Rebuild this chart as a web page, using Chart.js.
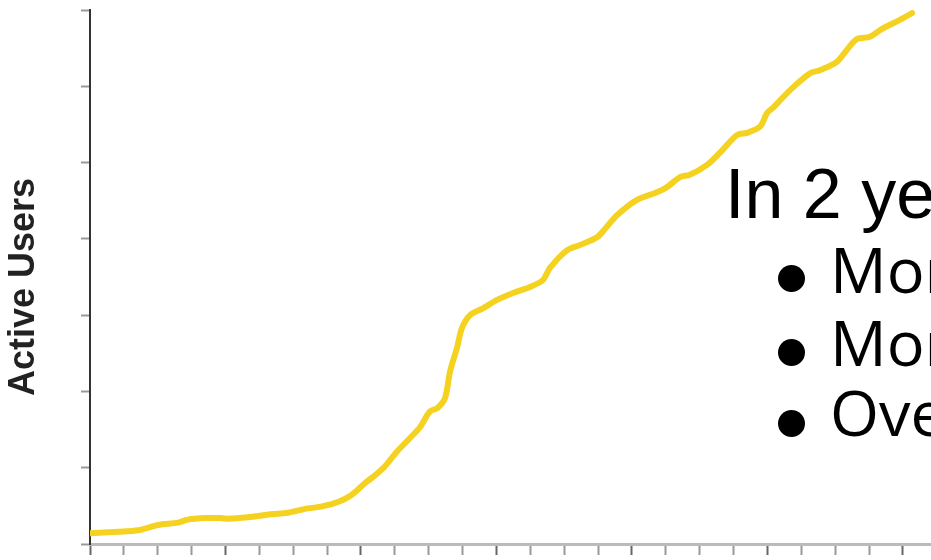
<!DOCTYPE html>
<html lang="en">
  <head>
    <meta charset="UTF-8" />
    <title>Active Users</title>
    <style>
      html, body { margin: 0; padding: 0; background: #fff; overflow: hidden; }
      #wrap { position: relative; width: 931px; height: 560px; }
      .head {
        position: absolute;
        font-family: "Liberation Sans", Arial, sans-serif;
        font-size: 70px;
        line-height: 70px;
        color: #000;
        white-space: nowrap;
      }
      .item {
        position: absolute;
        font-family: "Open Sans", "Liberation Sans", sans-serif;
        font-size: 63px;
        line-height: 63px;
        color: #000;
        white-space: nowrap;
      }
      .dot {
        position: absolute;
        width: 27px;
        height: 27px;
        border-radius: 50%;
        background: #000;
      }
    </style>
  </head>
  <body>
    <div id="wrap">
      <canvas id="chart"></canvas>
      <div class="head" style="left: 725px; top: 159px">In 2 years</div>
      <div class="dot" style="left: 778px; top: 265px"></div>
      <div class="item" style="left: 830px; top: 237px">More</div>
      <div class="dot" style="left: 778px; top: 339px"></div>
      <div class="item" style="left: 830px; top: 310px">More</div>
      <div class="dot" style="left: 778px; top: 410px"></div>
      <div class="item" style="left: 830px; top: 380px">Over</div>
    </div>

    <script src="https://cdn.jsdelivr.net/npm/chart.js@4"></script>
    <script>
      // months since launch (x) and active users in axis steps (y)
      const months = [
        0, 0.83, 1.42, 2.01, 2.6, 2.89, 3.4, 3.87, 4.07, 4.66, 5.34, 5.85,
        6.35, 6.82, 7.32, 7.71, 8.0, 8.15, 8.36, 8.71, 9.06, 9.45, 9.74,
        10.04, 10.25, 10.48, 10.63, 10.84, 10.98, 11.22, 11.6, 12.02, 12.49,
        12.99, 13.37, 13.58, 14.08, 14.47, 14.97, 15.26, 15.56, 16.15, 16.74,
        17.04, 17.42, 17.71, 18.22, 18.6, 19.1, 19.4, 19.78, 19.99, 20.17,
        20.67, 21.26, 21.55, 22.05, 22.35, 22.65, 23.03, 23.41, 23.91, 24.27
      ];
      const activeUsers = [
        0.14, 0.16, 0.18, 0.25, 0.28, 0.32, 0.34, 0.34, 0.33, 0.35, 0.39, 0.41,
        0.46, 0.49, 0.55, 0.64, 0.75, 0.81, 0.88, 1.02, 1.21, 1.39, 1.53,
        1.74, 1.78, 1.91, 2.26, 2.58, 2.83, 3.0, 3.09, 3.2, 3.29,
        3.37, 3.46, 3.62, 3.85, 3.92, 4.02, 4.16, 4.31, 4.51, 4.61,
        4.68, 4.81, 4.84, 4.97, 5.13, 5.36, 5.39, 5.47, 5.65, 5.72,
        5.95, 6.17, 6.21, 6.32, 6.48, 6.62, 6.65, 6.76, 6.87, 6.96
      ];
      const axisTitle = "Active Users";

      const points = months.map((m, i) => ({ x: m, y: activeUsers[i] }));

      var ctx = document.getElementById("chart").getContext("2d");
      var chart = new Chart(ctx, {
        type: "line",
        data: {
          datasets: [
            {
              data: points,
              borderColor: "#f4d21f",
              borderWidth: 6,
              borderCapStyle: "round",
              borderJoinStyle: "round",
              pointRadius: 0,
              tension: 0.3,
              fill: false,
            },
          ],
        },
        options: {
          responsive: true,
          maintainAspectRatio: false,
          animation: false,
          layout: { padding: { left: 2, top: 10, right: 0, bottom: 5 } },
          plugins: {
            legend: { display: false },
            tooltip: { enabled: false },
          },
          scales: {
            x: {
              type: "linear",
              min: 0,
              max: 24.83,
              ticks: { display: false, stepSize: 1, includeBounds: false },
              grid: {
                drawOnChartArea: false,
                tickLength: 11,
                tickWidth: 2,
                tickColor: (c) => (c.index % 4 === 0 ? "#666" : "#999"),
              },
              border: { color: "#bbb", width: 3 },
            },
            y: {
              min: 0,
              max: 7,
              ticks: { display: false, stepSize: 1 },
              grid: {
                drawOnChartArea: false,
                tickLength: 9,
                tickWidth: 2,
                tickColor: "#999",
              },
              border: { color: "#333", width: 2 },
              title: {
                display: true,
                text: axisTitle + "  ",
                color: "#222",
                font: {
                  family: "'Liberation Sans', Arial, sans-serif",
                  size: 36,
                  weight: "bold",
                  lineHeight: 1,
                },
                padding: { top: 4, bottom: 39 },
              },
            },
          },
        },
      });
    </script>
  </body>
</html>
